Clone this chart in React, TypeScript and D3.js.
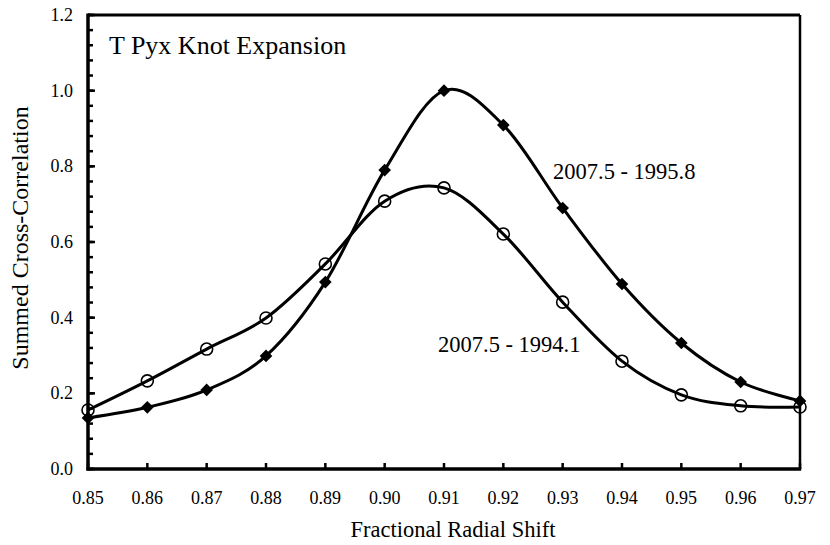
import React, { useEffect, useRef } from "react";
import * as d3 from "d3";

// fractional radial shift (x) and summed cross-correlation for the two epoch pairs
const shifts = [0.85, 0.86, 0.87, 0.88, 0.89, 0.9, 0.91, 0.92, 0.93, 0.94, 0.95, 0.96, 0.97];
const corr1995 = [0.135, 0.163, 0.209, 0.299, 0.494, 0.79, 1.0, 0.909, 0.69, 0.489, 0.333, 0.23, 0.18];
const corr1994 = [0.156, 0.233, 0.317, 0.399, 0.542, 0.708, 0.743, 0.621, 0.441, 0.285, 0.196, 0.167, 0.164];
const yTicks = [0, 0.2, 0.4, 0.6, 0.8, 1.0, 1.2];

const App: React.FC = () => {
  const svgRef = useRef<SVGSVGElement | null>(null);

  useEffect(() => {
    const width = 830, height = 545;
    const left = 88, right = 800, top = 15, bottom = 469;
    const font = "'Liberation Serif', 'Times New Roman', serif";

    const svg = d3.select(svgRef.current).attr("width", width).attr("height", height);
    svg.selectAll("*").remove();

    const x = d3.scaleLinear().domain([0.85, 0.97]).range([left, right]);
    const y = d3.scaleLinear().domain([0, 1.2]).range([bottom, top]);

    // frame
    svg.append("line").attr("x1", left).attr("x2", right).attr("y1", top).attr("y2", top)
      .attr("stroke", "#000").attr("stroke-width", 3);
    svg.append("line").attr("x1", right).attr("x2", right).attr("y1", top).attr("y2", bottom)
      .attr("stroke", "#000").attr("stroke-width", 2.5);

    // minor ticks on y every 0.04
    const minor = d3.range(0, 1.2001, 0.04);
    svg.append("g").selectAll("line").data(minor).join("line")
      .attr("x1", left).attr("x2", left + 5)
      .attr("y1", d => y(d)).attr("y2", d => y(d))
      .attr("stroke", "#000").attr("stroke-width", 2.5);
    svg.append("g").selectAll("line").data(yTicks).join("line")
      .attr("x1", left).attr("x2", left + 7)
      .attr("y1", d => y(d)).attr("y2", d => y(d))
      .attr("stroke", "#000").attr("stroke-width", 2.5);

    svg.append("g").selectAll("line").data(shifts).join("line")
      .attr("x1", d => x(d)).attr("x2", d => x(d))
      .attr("y1", bottom).attr("y2", bottom - 6)
      .attr("stroke", "#000").attr("stroke-width", 2.5);

    // axes lines
    svg.append("line").attr("x1", left).attr("x2", left).attr("y1", top - 1.5).attr("y2", bottom + 1.5)
      .attr("stroke", "#000").attr("stroke-width", 3.5);
    svg.append("line").attr("x1", left - 1.5).attr("x2", right + 1.2).attr("y1", bottom).attr("y2", bottom)
      .attr("stroke", "#000").attr("stroke-width", 3.5);

    // tick labels
    svg.append("g").selectAll("text").data(yTicks).join("text")
      .attr("x", 73).attr("y", d => y(d) + 6)
      .attr("text-anchor", "end")
      .attr("font-family", font).attr("font-size", 18)
      .text(d => d.toFixed(1));
    svg.append("g").selectAll("text").data(shifts).join("text")
      .attr("x", d => x(d)).attr("y", 504)
      .attr("text-anchor", "middle")
      .attr("font-family", font).attr("font-size", 18)
      .text(d => d.toFixed(2));

    // axis titles
    svg.append("text").attr("x", 453).attr("y", 537)
      .attr("text-anchor", "middle").attr("font-family", font).attr("font-size", 22.5)
      .text("Fractional Radial Shift");
    svg.append("text").attr("transform", "translate(28,238) rotate(-90)")
      .attr("text-anchor", "middle").attr("font-family", font).attr("font-size", 24)
      .text("Summed Cross-Correlation");

    // curves
    const line = d3.line<number>()
      .x((_, i) => x(shifts[i]))
      .y(d => y(d))
      .curve(d3.curveCardinal.tension(0));

    [corr1995, corr1994].forEach(series => {
      svg.append("path").datum(series)
        .attr("fill", "none").attr("stroke", "#000").attr("stroke-width", 3)
        .attr("d", line);
    });

    // markers
    const diamond = d3.symbol().type(d3.symbolSquare).size(80);
    svg.append("g").selectAll("path").data(corr1995).join("path")
      .attr("d", diamond)
      .attr("transform", (d, i) => `translate(${x(shifts[i])},${y(d)}) rotate(45)`)
      .attr("fill", "#000");
    svg.append("g").selectAll("circle").data(corr1994).join("circle")
      .attr("cx", (_, i) => x(shifts[i])).attr("cy", d => y(d)).attr("r", 6)
      .attr("fill", "none").attr("stroke", "#000").attr("stroke-width", 1.6);

    // labels
    svg.append("text").attr("x", 109).attr("y", 54)
      .attr("font-family", font).attr("font-size", 26)
      .text("T Pyx Knot Expansion");
    svg.append("text").attr("x", 553).attr("y", 179)
      .attr("font-family", font).attr("font-size", 22.5)
      .text("2007.5 - 1995.8");
    svg.append("text").attr("x", 438).attr("y", 352)
      .attr("font-family", font).attr("font-size", 22.5)
      .text("2007.5 - 1994.1");
  }, []);

  return <svg ref={svgRef} style={{ position: "absolute", left: 0, top: 0 }}></svg>;
};

export default App;
